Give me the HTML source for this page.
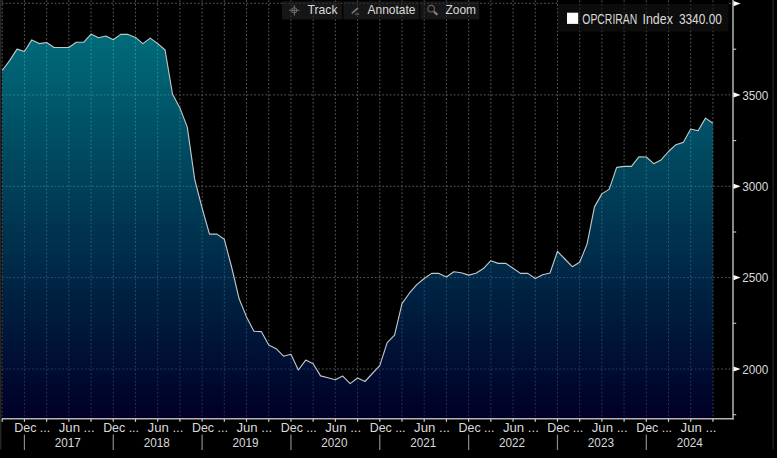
<!DOCTYPE html>
<html lang="en"><head><meta charset="utf-8"><title>OPCRIRAN Index</title>
<style>html,body{margin:0;padding:0;background:#000;overflow:hidden}svg{display:block}text{font-family:"Liberation Sans",Arial,sans-serif;fill:#dadada}</style></head><body>
<svg width="777" height="458" viewBox="0 0 777 458">
<defs><linearGradient id="g" gradientUnits="userSpaceOnUse" x1="0" y1="34" x2="0" y2="418.7"><stop offset="0" stop-color="#00d6f2"/><stop offset="0.985" stop-color="#000050"/><stop offset="1" stop-color="#00004e"/></linearGradient></defs>
<rect width="777" height="458" fill="#000"/>
<rect x="0" y="0" width="1.4" height="449.5" fill="#252525"/>
<rect x="772.3" y="0" width="1.5" height="449.5" fill="#1c1c1c"/>
<g stroke="#5a5a5a" stroke-width="1" stroke-dasharray="1.7 2.065" fill="none">
<line x1="2.22" y1="0" x2="2.22" y2="418.7" stroke-dashoffset="3.37"/>
<line x1="24.43" y1="0" x2="24.43" y2="418.7" stroke-dashoffset="3.37"/>
<line x1="46.64" y1="0" x2="46.64" y2="418.7" stroke-dashoffset="3.37"/>
<line x1="68.85" y1="0" x2="68.85" y2="418.7" stroke-dashoffset="3.37"/>
<line x1="91.06" y1="0" x2="91.06" y2="418.7" stroke-dashoffset="3.37"/>
<line x1="113.27" y1="0" x2="113.27" y2="418.7" stroke-dashoffset="3.37"/>
<line x1="135.48" y1="0" x2="135.48" y2="418.7" stroke-dashoffset="3.37"/>
<line x1="157.69" y1="0" x2="157.69" y2="418.7" stroke-dashoffset="3.37"/>
<line x1="179.90" y1="0" x2="179.90" y2="418.7" stroke-dashoffset="3.37"/>
<line x1="202.11" y1="0" x2="202.11" y2="418.7" stroke-dashoffset="3.37"/>
<line x1="224.32" y1="0" x2="224.32" y2="418.7" stroke-dashoffset="3.37"/>
<line x1="246.53" y1="0" x2="246.53" y2="418.7" stroke-dashoffset="3.37"/>
<line x1="268.74" y1="0" x2="268.74" y2="418.7" stroke-dashoffset="3.37"/>
<line x1="290.95" y1="0" x2="290.95" y2="418.7" stroke-dashoffset="3.37"/>
<line x1="313.16" y1="0" x2="313.16" y2="418.7" stroke-dashoffset="3.37"/>
<line x1="335.37" y1="0" x2="335.37" y2="418.7" stroke-dashoffset="3.37"/>
<line x1="357.58" y1="0" x2="357.58" y2="418.7" stroke-dashoffset="3.37"/>
<line x1="379.79" y1="0" x2="379.79" y2="418.7" stroke-dashoffset="3.37"/>
<line x1="402.00" y1="0" x2="402.00" y2="418.7" stroke-dashoffset="3.37"/>
<line x1="424.21" y1="0" x2="424.21" y2="418.7" stroke-dashoffset="3.37"/>
<line x1="446.42" y1="0" x2="446.42" y2="418.7" stroke-dashoffset="3.37"/>
<line x1="468.63" y1="0" x2="468.63" y2="418.7" stroke-dashoffset="3.37"/>
<line x1="490.84" y1="0" x2="490.84" y2="418.7" stroke-dashoffset="3.37"/>
<line x1="513.05" y1="0" x2="513.05" y2="418.7" stroke-dashoffset="3.37"/>
<line x1="535.26" y1="0" x2="535.26" y2="418.7" stroke-dashoffset="3.37"/>
<line x1="557.47" y1="0" x2="557.47" y2="418.7" stroke-dashoffset="3.37"/>
<line x1="579.68" y1="0" x2="579.68" y2="418.7" stroke-dashoffset="3.37"/>
<line x1="601.89" y1="0" x2="601.89" y2="418.7" stroke-dashoffset="3.37"/>
<line x1="624.10" y1="0" x2="624.10" y2="418.7" stroke-dashoffset="3.37"/>
<line x1="646.31" y1="0" x2="646.31" y2="418.7" stroke-dashoffset="3.37"/>
<line x1="668.52" y1="0" x2="668.52" y2="418.7" stroke-dashoffset="3.37"/>
<line x1="690.73" y1="0" x2="690.73" y2="418.7" stroke-dashoffset="3.37"/>
<line x1="712.94" y1="0" x2="712.94" y2="418.7" stroke-dashoffset="3.37"/>
<line x1="0" y1="94.9" x2="733.0" y2="94.9" stroke-dashoffset="1.77"/>
<line x1="0" y1="186.3" x2="733.0" y2="186.3" stroke-dashoffset="1.77"/>
<line x1="0" y1="277.6" x2="733.0" y2="277.6" stroke-dashoffset="1.77"/>
<line x1="0" y1="369.0" x2="733.0" y2="369.0" stroke-dashoffset="1.77"/>
<line x1="0" y1="3.3" x2="558.2" y2="3.3" stroke-dashoffset="1.77"/>
<line x1="729" y1="3.3" x2="733.0" y2="3.3"/>
</g>
<polygon points="2.22,418.7 2.22,70.50 9.62,60.60 17.03,49.10 24.43,51.50 31.83,39.90 39.23,43.60 46.64,42.50 54.04,47.50 61.44,47.50 68.85,47.50 76.25,42.30 83.65,42.30 91.06,34.10 98.46,37.70 105.86,36.00 113.26,39.70 120.67,34.40 128.07,34.40 135.47,37.40 142.88,43.60 150.28,38.10 157.68,43.60 165.09,50.00 172.49,94.00 179.89,107.90 187.29,127.10 194.70,179.40 202.10,208.00 209.50,234.10 216.91,234.10 224.31,239.30 231.71,267.50 239.12,298.80 246.52,316.90 253.92,331.30 261.32,331.60 268.73,345.00 276.13,348.70 283.53,356.20 290.94,354.20 298.34,370.00 305.74,360.10 313.15,363.80 320.55,375.90 327.95,377.80 335.36,379.80 342.76,376.10 350.16,383.60 357.56,378.00 364.97,381.50 372.37,373.50 379.77,365.60 387.18,342.70 394.58,335.10 401.98,303.60 409.38,293.20 416.79,284.60 424.19,278.50 431.59,273.40 439.00,273.40 446.40,277.00 453.80,271.80 461.21,272.80 468.61,275.10 476.01,273.20 483.42,268.60 490.82,260.70 498.22,263.40 505.62,263.20 513.03,268.20 520.43,273.40 527.83,273.40 535.24,278.50 542.64,274.70 550.04,273.00 557.45,251.40 564.85,259.00 572.25,266.70 579.65,262.30 587.06,244.10 594.46,206.90 601.86,193.90 609.27,189.10 616.67,167.40 624.07,166.40 631.48,166.40 638.88,156.80 646.28,157.00 653.68,163.70 661.09,159.90 668.49,151.50 675.89,144.70 683.30,142.40 690.70,129.00 698.10,130.80 705.50,118.10 712.91,123.30 712.91,418.7" fill="url(#g)" fill-opacity="0.5"/>
<polyline points="2.22,70.50 9.62,60.60 17.03,49.10 24.43,51.50 31.83,39.90 39.23,43.60 46.64,42.50 54.04,47.50 61.44,47.50 68.85,47.50 76.25,42.30 83.65,42.30 91.06,34.10 98.46,37.70 105.86,36.00 113.26,39.70 120.67,34.40 128.07,34.40 135.47,37.40 142.88,43.60 150.28,38.10 157.68,43.60 165.09,50.00 172.49,94.00 179.89,107.90 187.29,127.10 194.70,179.40 202.10,208.00 209.50,234.10 216.91,234.10 224.31,239.30 231.71,267.50 239.12,298.80 246.52,316.90 253.92,331.30 261.32,331.60 268.73,345.00 276.13,348.70 283.53,356.20 290.94,354.20 298.34,370.00 305.74,360.10 313.15,363.80 320.55,375.90 327.95,377.80 335.36,379.80 342.76,376.10 350.16,383.60 357.56,378.00 364.97,381.50 372.37,373.50 379.77,365.60 387.18,342.70 394.58,335.10 401.98,303.60 409.38,293.20 416.79,284.60 424.19,278.50 431.59,273.40 439.00,273.40 446.40,277.00 453.80,271.80 461.21,272.80 468.61,275.10 476.01,273.20 483.42,268.60 490.82,260.70 498.22,263.40 505.62,263.20 513.03,268.20 520.43,273.40 527.83,273.40 535.24,278.50 542.64,274.70 550.04,273.00 557.45,251.40 564.85,259.00 572.25,266.70 579.65,262.30 587.06,244.10 594.46,206.90 601.86,193.90 609.27,189.10 616.67,167.40 624.07,166.40 631.48,166.40 638.88,156.80 646.28,157.00 653.68,163.70 661.09,159.90 668.49,151.50 675.89,144.70 683.30,142.40 690.70,129.00 698.10,130.80 705.50,118.10 712.91,123.30" fill="none" stroke="#c0c8cb" stroke-width="1.12" stroke-linejoin="round"/>
<line x1="2" y1="418.7" x2="733.7" y2="418.7" stroke="#b4b4b4" stroke-width="1.4"/>
<line x1="733.0" y1="0" x2="733.0" y2="419.4" stroke="#b4b4b4" stroke-width="1.5"/>
<g stroke="#d0d0d0" stroke-width="1.2">
<line x1="2.22" y1="418.7" x2="2.22" y2="421.8"/>
<line x1="24.43" y1="418.7" x2="24.43" y2="421.8"/>
<line x1="46.64" y1="418.7" x2="46.64" y2="421.8"/>
<line x1="68.85" y1="418.7" x2="68.85" y2="421.8"/>
<line x1="91.06" y1="418.7" x2="91.06" y2="421.8"/>
<line x1="113.27" y1="418.7" x2="113.27" y2="421.8"/>
<line x1="135.48" y1="418.7" x2="135.48" y2="421.8"/>
<line x1="157.69" y1="418.7" x2="157.69" y2="421.8"/>
<line x1="179.90" y1="418.7" x2="179.90" y2="421.8"/>
<line x1="202.11" y1="418.7" x2="202.11" y2="421.8"/>
<line x1="224.32" y1="418.7" x2="224.32" y2="421.8"/>
<line x1="246.53" y1="418.7" x2="246.53" y2="421.8"/>
<line x1="268.74" y1="418.7" x2="268.74" y2="421.8"/>
<line x1="290.95" y1="418.7" x2="290.95" y2="421.8"/>
<line x1="313.16" y1="418.7" x2="313.16" y2="421.8"/>
<line x1="335.37" y1="418.7" x2="335.37" y2="421.8"/>
<line x1="357.58" y1="418.7" x2="357.58" y2="421.8"/>
<line x1="379.79" y1="418.7" x2="379.79" y2="421.8"/>
<line x1="402.00" y1="418.7" x2="402.00" y2="421.8"/>
<line x1="424.21" y1="418.7" x2="424.21" y2="421.8"/>
<line x1="446.42" y1="418.7" x2="446.42" y2="421.8"/>
<line x1="468.63" y1="418.7" x2="468.63" y2="421.8"/>
<line x1="490.84" y1="418.7" x2="490.84" y2="421.8"/>
<line x1="513.05" y1="418.7" x2="513.05" y2="421.8"/>
<line x1="535.26" y1="418.7" x2="535.26" y2="421.8"/>
<line x1="557.47" y1="418.7" x2="557.47" y2="421.8"/>
<line x1="579.68" y1="418.7" x2="579.68" y2="421.8"/>
<line x1="601.89" y1="418.7" x2="601.89" y2="421.8"/>
<line x1="624.10" y1="418.7" x2="624.10" y2="421.8"/>
<line x1="646.31" y1="418.7" x2="646.31" y2="421.8"/>
<line x1="668.52" y1="418.7" x2="668.52" y2="421.8"/>
<line x1="690.73" y1="418.7" x2="690.73" y2="421.8"/>
<line x1="712.94" y1="418.7" x2="712.94" y2="421.8"/>
</g>
<g stroke="#8a8a8a" stroke-width="1.2">
<line x1="24.43" y1="434.6" x2="24.43" y2="450"/>
<line x1="113.27" y1="434.6" x2="113.27" y2="450"/>
<line x1="202.11" y1="434.6" x2="202.11" y2="450"/>
<line x1="290.95" y1="434.6" x2="290.95" y2="450"/>
<line x1="379.79" y1="434.6" x2="379.79" y2="450"/>
<line x1="468.63" y1="434.6" x2="468.63" y2="450"/>
<line x1="557.47" y1="434.6" x2="557.47" y2="450"/>
<line x1="646.31" y1="434.6" x2="646.31" y2="450"/>
</g>
<g font-size="13">
<text x="14.30" y="432.4" textLength="35.9" lengthAdjust="spacingAndGlyphs">Dec ...</text>
<text x="58.72" y="432.4" textLength="35.9" lengthAdjust="spacingAndGlyphs">Jun ...</text>
<text x="103.14" y="432.4" textLength="35.9" lengthAdjust="spacingAndGlyphs">Dec ...</text>
<text x="147.56" y="432.4" textLength="35.9" lengthAdjust="spacingAndGlyphs">Jun ...</text>
<text x="191.98" y="432.4" textLength="35.9" lengthAdjust="spacingAndGlyphs">Dec ...</text>
<text x="236.40" y="432.4" textLength="35.9" lengthAdjust="spacingAndGlyphs">Jun ...</text>
<text x="280.82" y="432.4" textLength="35.9" lengthAdjust="spacingAndGlyphs">Dec ...</text>
<text x="325.24" y="432.4" textLength="35.9" lengthAdjust="spacingAndGlyphs">Jun ...</text>
<text x="369.66" y="432.4" textLength="35.9" lengthAdjust="spacingAndGlyphs">Dec ...</text>
<text x="414.08" y="432.4" textLength="35.9" lengthAdjust="spacingAndGlyphs">Jun ...</text>
<text x="458.50" y="432.4" textLength="35.9" lengthAdjust="spacingAndGlyphs">Dec ...</text>
<text x="502.92" y="432.4" textLength="35.9" lengthAdjust="spacingAndGlyphs">Jun ...</text>
<text x="547.34" y="432.4" textLength="35.9" lengthAdjust="spacingAndGlyphs">Dec ...</text>
<text x="591.76" y="432.4" textLength="35.9" lengthAdjust="spacingAndGlyphs">Jun ...</text>
<text x="636.18" y="432.4" textLength="35.9" lengthAdjust="spacingAndGlyphs">Dec ...</text>
<text x="680.60" y="432.4" textLength="35.9" lengthAdjust="spacingAndGlyphs">Jun ...</text>
<text x="54.80" y="447.3" textLength="26.1" lengthAdjust="spacingAndGlyphs">2017</text>
<text x="143.64" y="447.3" textLength="26.1" lengthAdjust="spacingAndGlyphs">2018</text>
<text x="232.48" y="447.3" textLength="26.1" lengthAdjust="spacingAndGlyphs">2019</text>
<text x="321.32" y="447.3" textLength="26.1" lengthAdjust="spacingAndGlyphs">2020</text>
<text x="410.16" y="447.3" textLength="26.1" lengthAdjust="spacingAndGlyphs">2021</text>
<text x="499.00" y="447.3" textLength="26.1" lengthAdjust="spacingAndGlyphs">2022</text>
<text x="587.84" y="447.3" textLength="26.1" lengthAdjust="spacingAndGlyphs">2023</text>
<text x="676.68" y="447.3" textLength="26.1" lengthAdjust="spacingAndGlyphs">2024</text>
</g>
<g font-size="13">
<polygon points="733.5,92.30000000000001 733.5,97.5 740.6,94.9" fill="#fff"/>
<text x="742.2" y="99.7" textLength="26.2" lengthAdjust="spacingAndGlyphs">3500</text>
<polygon points="733.5,183.70000000000002 733.5,188.9 740.6,186.3" fill="#fff"/>
<text x="742.2" y="191.1" textLength="26.2" lengthAdjust="spacingAndGlyphs">3000</text>
<polygon points="733.5,275.0 733.5,280.20000000000005 740.6,277.6" fill="#fff"/>
<text x="742.2" y="282.4" textLength="26.2" lengthAdjust="spacingAndGlyphs">2500</text>
<polygon points="733.5,366.4 733.5,371.6 740.6,369.0" fill="#fff"/>
<text x="742.2" y="373.8" textLength="26.2" lengthAdjust="spacingAndGlyphs">2000</text>
<polygon points="733.5,1 733.5,6.2 740.6,3.5" fill="#fff"/>
</g>
<g stroke="#c8c8c8" stroke-width="1.1">
<line x1="733.0" y1="49.2" x2="736.2" y2="49.2"/>
<line x1="733.0" y1="140.6" x2="736.2" y2="140.6"/>
<line x1="733.0" y1="232.0" x2="736.2" y2="232.0"/>
<line x1="733.0" y1="323.3" x2="736.2" y2="323.3"/>
<line x1="733.0" y1="414.7" x2="736.2" y2="414.7"/>
</g>
<g>
<rect x="282" y="1.3" width="60" height="18.2" fill="#252525" fill-opacity="0.6"/>
<rect x="343.3" y="1.3" width="76" height="18.2" fill="#252525" fill-opacity="0.6"/>
<rect x="420.3" y="1.3" width="59" height="18.2" fill="#252525" fill-opacity="0.6"/>
</g>
<g font-size="13" fill="#dcdcdc">
<text x="307.5" y="14.2" textLength="30" lengthAdjust="spacingAndGlyphs">Track</text>
<text x="367.5" y="14.2" textLength="48" lengthAdjust="spacingAndGlyphs">Annotate</text>
<text x="445.5" y="14.2" textLength="30.5" lengthAdjust="spacingAndGlyphs">Zoom</text>
</g>
<g fill="none">
<g stroke="#747474" stroke-width="0.95"><circle cx="294.3" cy="10.3" r="2.6"/><line x1="289.2" y1="10.3" x2="299.4" y2="10.3"/><line x1="294.3" y1="5.1" x2="294.3" y2="15.6"/></g>
<line x1="351.8" y1="13.4" x2="358" y2="8" stroke="#727272" stroke-width="1.8"/><line x1="355" y1="14.1" x2="359.3" y2="14.1" stroke="#6a6a6a" stroke-width="1.1"/>
<circle cx="431.1" cy="8.7" r="3.3" stroke="#646464" stroke-width="1.1"/><line x1="434" y1="11.7" x2="437.4" y2="14.8" stroke="#8a8a8a" stroke-width="2"/>
</g>
<rect x="557.7" y="3.9" width="170.8" height="27.7" rx="2" fill="#141414" fill-opacity="0.6"/>
<rect x="567" y="12.7" width="11.2" height="11.2" fill="#fff"/>
<g font-size="14" fill="#ececec">
<text x="582.3" y="23.8" textLength="55" lengthAdjust="spacingAndGlyphs">OPCRIRAN</text>
<text x="642.5" y="23.8" textLength="30.4" lengthAdjust="spacingAndGlyphs">Index</text>
<text x="678.9" y="23.8" textLength="43" lengthAdjust="spacingAndGlyphs">3340.00</text>
</g>
</svg></body></html>
